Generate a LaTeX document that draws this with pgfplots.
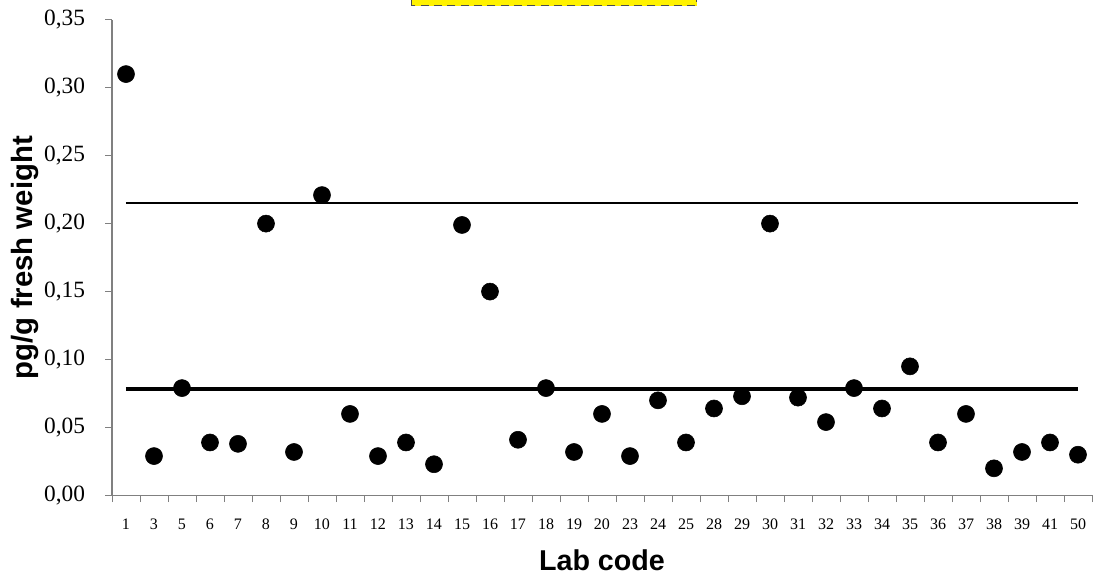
\documentclass[border=0pt]{standalone}
\usepackage{fontspec}
\setmainfont{Liberation Serif}
\newfontfamily\arialfont{Liberation Sans}
\usepackage{pgfplots}
\pgfplotsset{compat=1.18}
\usepackage{pgfplotstable}
\definecolor{axisgray}{HTML}{808080}
\pgfplotstableread{
idx val
0 0.310
1 0.029
2 0.079
3 0.039
4 0.038
5 0.200
6 0.032
7 0.221
8 0.060
9 0.029
10 0.039
11 0.023
12 0.199
13 0.150
14 0.041
15 0.079
16 0.032
17 0.060
18 0.029
19 0.070
20 0.039
21 0.064
22 0.073
23 0.200
24 0.072
25 0.054
26 0.079
27 0.064
28 0.095
29 0.039
30 0.060
31 0.020
32 0.032
33 0.039
34 0.030
}\labdata
\begin{document}
\begin{tikzpicture}
\begin{axis}[
  scale only axis,
  at={(0,0)}, anchor=south west,
  width=735pt, height=356.85pt,
  xmin=-0.5, xmax=34.5,
  ymin=0, ymax=0.35,
  clip=false,
  axis x line*=bottom,
  axis y line*=left,
  axis line style={-, axisgray, line width=0.8pt},
  tick style={axisgray, line width=0.6pt},
  tick align=outside,
  major tick length=5pt,
  xtick={-0.5,0.5,...,34.5},
  x tick label as interval,
  xticklabels={1,3,5,6,7,8,9,10,11,12,13,14,15,16,17,18,19,20,23,24,25,28,29,30,31,32,33,34,35,36,37,38,39,41,50},
  xticklabel style={font=\fontsize{12}{14}\selectfont, anchor=center, yshift=-16.5pt, inner sep=0pt},
  ytick={0,0.05,...,0.351},
  yticklabel style={font=\fontsize{17.5}{20}\selectfont, anchor=east, inner xsep=0pt, xshift=-15pt,
    /pgf/number format/.cd, fixed, fixed zerofill, precision=2, use comma, assume math mode=true},
  xlabel={Lab code},
  ylabel={pg/g fresh weight},
  xlabel style={font=\arialfont\bfseries\fontsize{21.5}{24}\selectfont, at={(axis description cs:0.5,-0.1356)}, anchor=center},
  ylabel style={font=\arialfont\bfseries\fontsize{22}{24}\selectfont, at={(axis description cs:-0.0888,0.5)}, anchor=center},
]
\addplot[black, line width=1.2pt, forget plot] coordinates {(0,0.215) (34,0.215)};
\addplot[black, line width=3pt, forget plot] coordinates {(0,0.078) (34,0.078)};
\addplot[only marks, mark=*, mark size=6.4pt, black] table[x=idx, y=val] {\labdata};
\end{axis}
\filldraw[fill=yellow, draw=black!70, dashed, dash pattern=on 6pt off 4pt, line width=1pt] (224.8pt,367.35pt) rectangle (438.5pt,385pt);
\pgfresetboundingbox
\useasboundingbox (-84pt,-61.125pt) rectangle (735.75pt,371.625pt);
\end{tikzpicture}
\end{document}
